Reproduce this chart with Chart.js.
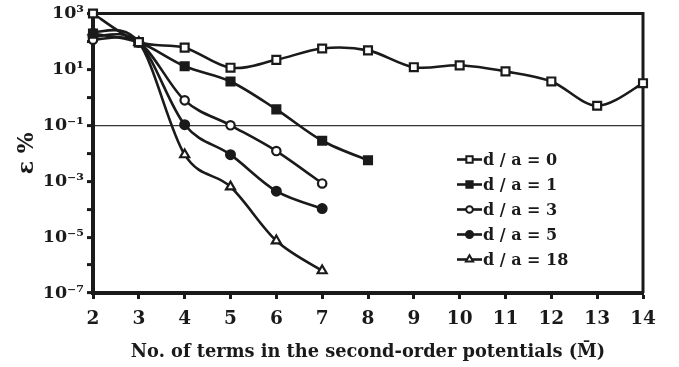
<!DOCTYPE html>
<html>
<head>
<meta charset="utf-8">
<script src="https://cdn.jsdelivr.net/npm/chart.js@4/dist/chart.umd.min.js"></script>
<style>
  html, body { margin: 0; padding: 0; background: #fff; }
  #wrap { width: 679px; height: 367px; position: relative; }
</style>
</head>
<body>
<div id="wrap"><canvas id="c"></canvas></div>
<script>
// Number of terms M̄ in the second-order potentials
const termsAll = [2, 3, 4, 5, 6, 7, 8, 9, 10, 11, 12, 13, 14];

// Relative error ε % for each spacing ratio d / a
const errDa0  = [1000, 95, 60, 11.5, 22, 56, 48, 12, 14, 8.5, 3.7, 0.5, 3.2];
const errDa1  = [190, 93, 13, 3.7, 0.37, 0.028, 0.0056];
const errDa3  = [115, 93, 0.78, 0.1, 0.012, 0.00083];
const errDa5  = [150, 93, 0.105, 0.0089, 0.00044, 0.000105];
const errDa18 = [222, 93, 0.0089, 0.00063, 0.0000074, 0.00000063];

const seriesLabels = ['d / a = 0', 'd / a = 1', 'd / a = 3', 'd / a = 5', 'd / a = 18'];

// Decades shown on the error axis (labels only on odd powers)
const decadeExponents = [-7, -6, -5, -4, -3, -2, -1, 0, 1, 2, 3];
const referenceLevel = 0.1;

const FONT = "'DejaVu Serif', serif";
const INK = '#1a1a1a';

const sup = { '-': '\u207B', '0': '\u2070', '1': '\u00B9', '2': '\u00B2', '3': '\u00B3',
  '4': '\u2074', '5': '\u2075', '6': '\u2076', '7': '\u2077', '8': '\u2078', '9': '\u2079' };
function powLabel(e) {
  return '10' + String(e).split('').map(ch => sup[ch]).join('');
}

function toPoints(values) {
  return values.map((v, i) => ({ x: termsAll[i], y: v }));
}

const markerStyles = [
  { pointStyle: 'rect', radius: 5.6, fill: '#fff' },
  { pointStyle: 'rect', radius: 5.6, fill: INK },
  { pointStyle: 'circle', radius: 4.2, fill: '#fff' },
  { pointStyle: 'circle', radius: 4.4, fill: INK },
  { pointStyle: 'triangle', radius: 5.2, fill: '#fff' }
];

const allSeries = [errDa0, errDa1, errDa3, errDa5, errDa18];

const datasets = allSeries.map((vals, i) => ({
  label: seriesLabels[i],
  data: toPoints(vals),
  borderColor: INK,
  borderWidth: 2.6,
  tension: 0.3,
  pointStyle: markerStyles[i].pointStyle,
  pointRadius: markerStyles[i].radius,
  pointHoverRadius: markerStyles[i].radius,
  pointBackgroundColor: markerStyles[i].fill,
  pointBorderColor: INK,
  pointBorderWidth: 2.2,
  clip: false
}));

// Uniform Catmull-Rom smoothing through the points placed by the scales
const uniformSpline = {
  id: 'uniformSpline',
  beforeDatasetDraw(chart, args) {
    const meta = args.meta;
    const line = meta.dataset;
    if (!line) return;
    line.updateControlPoints(chart.chartArea);
    const pts = meta.data;
    const n = pts.length;
    for (let i = 0; i < n; i++) {
      const p = pts[i];
      const prev = pts[Math.max(0, i - 1)];
      const next = pts[Math.min(n - 1, i + 1)];
      const dx = (next.x - prev.x) / 6;
      const dy = (next.y - prev.y) / 6;
      p.cp1x = p.x - dx;
      p.cp1y = p.y - dy;
      p.cp2x = p.x + dx;
      p.cp2y = p.y + dy;
    }
  }
};

// Top and right edges of the plot frame
const framePlugin = {
  id: 'frame',
  beforeDatasetsDraw(chart) {
    const { ctx, chartArea: a } = chart;
    ctx.save();
    ctx.strokeStyle = INK;
    ctx.lineWidth = 3;
    ctx.beginPath();
    ctx.moveTo(a.left, a.top);
    ctx.lineTo(a.right, a.top);
    ctx.lineTo(a.right, a.bottom);
    ctx.stroke();
    ctx.restore();
  }
};

// Legend drawn inside the plot, lower right
const insideLegend = {
  id: 'insideLegend',
  afterDatasetsDraw(chart) {
    const { ctx, chartArea: a } = chart;
    const x0 = a.right - 186;
    const y0 = a.top + 146;
    const step = 25;
    ctx.save();
    chart.data.datasets.forEach((ds, i) => {
      const y = y0 + i * step;
      ctx.strokeStyle = INK;
      ctx.lineWidth = 2.6;
      ctx.beginPath();
      ctx.moveTo(x0, y);
      ctx.lineTo(x0 + 25, y);
      ctx.stroke();
      ctx.fillStyle = ds.pointBackgroundColor;
      ctx.strokeStyle = INK;
      ctx.lineWidth = 2;
      Chart.helpers.drawPoint(ctx, {
        pointStyle: ds.pointStyle,
        radius: ds.pointRadius * 0.8,
        borderWidth: 2,
        rotation: 0
      }, x0 + 12.5, y);
      ctx.fillStyle = INK;
      ctx.font = 'bold 16px ' + FONT;
      ctx.textBaseline = 'middle';
      ctx.textAlign = 'left';
      ctx.fillText(ds.label, x0 + 26, y + 1);
    });
    ctx.restore();
  }
};

new Chart(document.getElementById('c'), {
  type: 'line',
  data: { datasets },
  plugins: [uniformSpline, framePlugin, insideLegend],
  options: {
    responsive: true,
    maintainAspectRatio: false,
    animation: false,
    layout: { padding: { top: 13, right: 36, left: 0, bottom: 0 } },
    plugins: {
      legend: { display: false },
      tooltip: { enabled: false }
    },
    scales: {
      x: {
        type: 'linear',
        min: 2,
        max: 14,
        afterFit(scale) { scale.height = 74; },
        ticks: {
          stepSize: 1,
          color: INK,
          padding: 9,
          font: { family: FONT, size: 18.5, weight: 'bold' }
        },
        grid: {
          drawOnChartArea: false,
          tickLength: 6,
          tickWidth: 3,
          tickColor: INK
        },
        border: { display: true, color: INK, width: 4 },
        title: {
          display: true,
          text: 'No. of terms in the second-order potentials (M\u0304)',
          color: INK,
          padding: { top: 0, bottom: 4 },
          font: { family: FONT, size: 17.8, weight: 'bold' }
        }
      },
      y: {
        type: 'logarithmic',
        min: 1e-7,
        max: 1e3,
        afterFit(scale) { scale.width = 93; },
        afterBuildTicks(scale) {
          scale.ticks = decadeExponents.map(e => ({ value: Math.pow(10, e) }));
        },
        ticks: {
          color: INK,
          padding: 3,
          autoSkip: false,
          font: { family: FONT, size: 17.5, weight: 'bold' },
          callback(value) {
            const e = Math.round(Math.log10(value));
            return Math.abs(e) % 2 === 1 ? powLabel(e) : '';
          }
        },
        grid: {
          drawOnChartArea: true,
          color(ctx) {
            const v = ctx.tick && ctx.tick.value;
            return v && Math.abs(Math.log10(v) - Math.log10(referenceLevel)) < 1e-6 ? '#333' : 'rgba(0,0,0,0)';
          },
          lineWidth: 1.2,
          tickLength: 6,
          tickWidth: 3,
          tickColor: INK
        },
        border: { display: true, color: INK, width: 4 },
        title: {
          display: true,
          text: '\u03B5 %',
          color: INK,
          padding: { top: 14, bottom: 0 },
          font: { family: FONT, size: 22, weight: 'bold' }
        }
      }
    }
  }
});
</script>
</body>
</html>
